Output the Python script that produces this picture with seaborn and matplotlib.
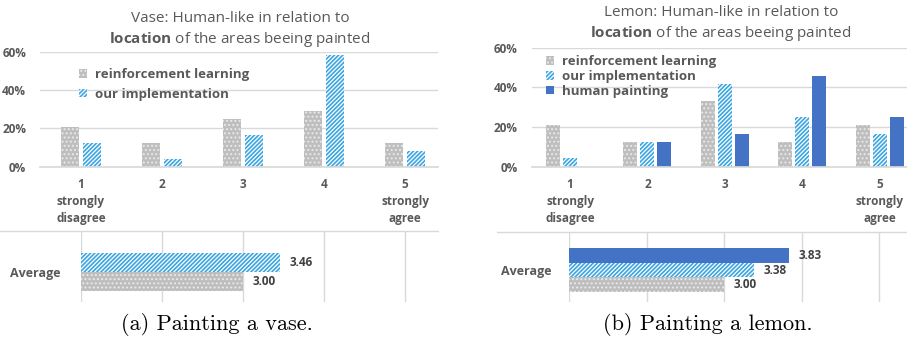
import matplotlib
matplotlib.use("Agg")
import matplotlib.pyplot as plt
import seaborn as sns
import pandas as pd
from matplotlib.patches import Patch
from matplotlib.lines import Line2D
from matplotlib.ticker import FuncFormatter

# ---- data -------------------------------------------------------------
scores = ["1\nstrongly\ndisagree", "2", "3", "4", "5\nstrongly\nagree"]
avg_label = "Average"
rl_name = "reinforcement learning"
ours_name = "our implementation"
human_name = "human painting"

vase_rl = [20.8, 12.5, 25.0, 29.2, 12.5]
vase_ours = [12.5, 4.2, 16.7, 58.3, 8.3]
vase_avg = {ours_name: 3.46, rl_name: 3.00}

lemon_rl = [20.8, 12.5, 33.3, 12.5, 20.8]
lemon_ours = [4.2, 12.5, 41.7, 25.0, 16.7]
lemon_human = [0.0, 12.5, 16.7, 45.8, 25.0]
lemon_avg = {human_name: 3.83, ours_name: 3.38, rl_name: 3.00}

y_ticks = [0, 20, 40, 60]
avg_ticks = [1, 2, 3, 4, 5]

# ---- style ------------------------------------------------------------
sns.set_theme(style="white")
plt.rcParams["font.family"] = ["Open Sans", "DejaVu Sans"]
plt.rcParams["mathtext.fontset"] = "custom"
plt.rcParams["mathtext.rm"] = "Open Sans"
plt.rcParams["mathtext.bf"] = "Open Sans:bold"
plt.rcParams["hatch.linewidth"] = 0.9

TXT = "#595959"
VAL = "#404040"
GRID = "#D9D9D9"
palette = {rl_name: "#BEBEBE", ours_name: "#3DA6E0", human_name: "#4472C4"}
hatches = {rl_name: "....", ours_name: "////////", human_name: None}
hatch_colors = {rl_name: "#EAEAEA", ours_name: "white", human_name: None}

W, H = 907, 340
fig = plt.figure(figsize=(W / 100, H / 100), dpi=100)


def px_axes(x0, y0, x1, y1):
    return fig.add_axes([x0 / W, 1 - y1 / H, (x1 - x0) / W, (y1 - y0) / H])


def style_bars(ax, order):
    for cont, name in zip(ax.containers, order):
        for bar in cont:
            if hatches[name]:
                bar.set_hatch(hatches[name])
                bar.set_edgecolor(hatch_colors[name])
            else:
                bar.set_edgecolor(palette[name])
            bar.set_linewidth(0)


def dist_panel(ax, series, width, gap, xlim):
    rows = []
    for name, vals in series:
        for s, v in zip(scores, vals):
            rows.append({"score": s, "series": name, "pct": v})
    df = pd.DataFrame(rows)
    order = [n for n, _ in series]
    sns.barplot(data=df, x="score", y="pct", hue="series", order=scores,
                hue_order=order, palette=palette, saturation=1,
                width=width, gap=gap, errorbar=None, legend=False, ax=ax)
    style_bars(ax, order)
    ax.set_xlim(*xlim)
    ax.set_ylim(0, 60)
    ax.set_yticks(y_ticks)
    ax.yaxis.set_major_formatter(FuncFormatter(lambda v, p: f"{v:.0f}%"))
    ax.set_xlabel("")
    ax.set_ylabel("")
    ax.grid(axis="y", color=GRID, lw=1)
    ax.set_axisbelow(True)
    for sp in ["top", "right", "left"]:
        ax.spines[sp].set_visible(False)
    ax.spines["bottom"].set_color(GRID)
    ax.tick_params(axis="both", length=0, colors=TXT, labelsize=8.5)
    ax.tick_params(axis="x", pad=8)
    ax.tick_params(axis="y", pad=10)
    for lab in ax.get_xticklabels() + ax.get_yticklabels():
        lab.set_fontweight("bold")
        lab.set_linespacing(1.4)
    handles = [Patch(facecolor=palette[n],
                     edgecolor=hatch_colors[n] if hatches[n] else palette[n],
                     hatch=hatches[n], lw=0, label=n) for n in order]
    return handles


def avg_panel(ax, avgs, xlim, ylim):
    df = pd.DataFrame({"label": [avg_label] * len(avgs),
                       "series": list(avgs.keys()),
                       "avg": list(avgs.values())})
    order = list(avgs.keys())
    sns.barplot(data=df, x="avg", y="label", hue="series", orient="h",
                hue_order=order, palette=palette, saturation=1, width=0.8,
                gap=0, errorbar=None, legend=False, ax=ax)
    style_bars(ax, order)
    for cont in ax.containers:
        ax.bar_label(cont, fmt="%.2f", padding=7, fontsize=8.5,
                     fontweight="bold", color=VAL)
    ax.set_xlim(*xlim)
    ax.set_ylim(*ylim)
    ax.set_xticks(avg_ticks)
    ax.set_xticklabels([])
    ax.set_xlabel("")
    ax.set_ylabel("")
    ax.grid(axis="x", color=GRID, lw=1)
    ax.set_axisbelow(True)
    for sp in ax.spines.values():
        sp.set_visible(False)
    ax.tick_params(axis="both", length=0, colors=TXT, labelsize=9)
    for lab in ax.get_yticklabels():
        lab.set_fontweight("bold")


legend_kw = dict(bbox_transform=fig.transFigure, frameon=False,
                 handlelength=0.6, handleheight=0.6, handletextpad=0.6,
                 borderaxespad=0, borderpad=0, loc="upper left",
                 prop={"weight": "bold", "size": 9.5}, labelcolor=TXT)

# ---- vase -------------------------------------------------------------
ax1 = px_axes(40, 51.7, 438, 166.7)
h1 = dist_panel(ax1, [(rl_name, vase_rl), (ours_name, vase_ours)],
                width=0.54, gap=0.15, xlim=(-0.506, 4.407))
ax1.legend(handles=h1, bbox_to_anchor=(79 / W, 1 - 68 / H),
           labelspacing=0.5, **legend_kw)

ax2 = px_axes(81, 231, 438, 302)
avg_panel(ax2, vase_avg, xlim=(1, 5.407), ylim=(0.632, -0.863))
ax2.tick_params(axis="y", pad=15)
fig.add_artist(Line2D([0, 438 / W], [1 - 231 / H] * 2, color=GRID, lw=1))

fig.text(240 / W, 1 - 18 / H, "Vase: Human-like in relation to",
         ha="center", va="center", fontsize=11, color=TXT)
fig.text(240 / W, 1 - 39.5 / H, r"$\mathbf{location}$ of the areas beeing painted",
         ha="center", va="center", fontsize=11, color=TXT)
fig.text(217 / W, 1 - 324 / H, "(a) Painting a vase.", ha="center",
         va="center", fontsize=16, family="cmr10", color="black")

# ---- lemon ------------------------------------------------------------
ax3 = px_axes(531.7, 47.7, 907, 166.7)
h3 = dist_panel(ax3, [(rl_name, lemon_rl), (ours_name, lemon_ours),
                      (human_name, lemon_human)],
                width=0.66, gap=0.18, xlim=(-0.495, 4.354))
ax3.legend(handles=h3, bbox_to_anchor=(546 / W, 1 - 55 / H),
           labelspacing=0.15, **legend_kw)

ax4 = px_axes(569.3, 231.7, 907, 302)
avg_panel(ax4, lemon_avg, xlim=(1, 5.357), ylim=(0.587, -0.704))
ax4.tick_params(axis="y", pad=13)
fig.add_artist(Line2D([497 / W, 1], [1 - 231.7 / H] * 2, color=GRID, lw=1))

fig.text(721 / W, 1 - 12.5 / H, "Lemon: Human-like in relation to",
         ha="center", va="center", fontsize=11, color=TXT)
fig.text(721 / W, 1 - 33.5 / H, r"$\mathbf{location}$ of the areas beeing painted",
         ha="center", va="center", fontsize=11, color=TXT)
fig.text(707.5 / W, 1 - 324 / H, "(b) Painting a lemon.", ha="center",
         va="center", fontsize=16, family="cmr10", color="black")

fig.savefig("out.png", dpi=100)
